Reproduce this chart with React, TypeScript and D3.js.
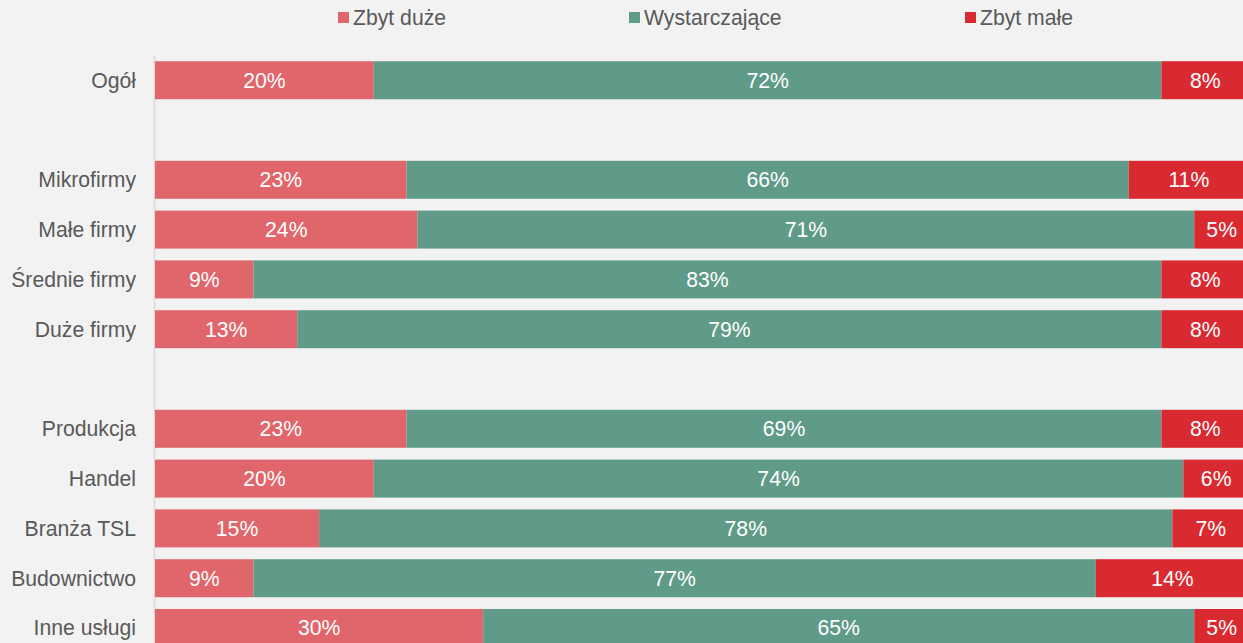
import React from "react";
import * as d3 from "d3";

const categories = [
  "Ogół", "", "Mikrofirmy", "Małe firmy", "Średnie firmy", "Duże firmy", " ",
  "Produkcja", "Handel", "Branża TSL", "Budownictwo", "Inne usługi",
];
const zbytDuze = [20, null, 23, 24, 9, 13, null, 23, 20, 15, 9, 30];
const wystarczajace = [72, null, 66, 71, 83, 79, null, 69, 74, 78, 77, 65];
const zbytMale = [8, null, 11, 5, 8, 8, null, 8, 6, 7, 14, 5];

const seriesNames = ["Zbyt duże", "Wystarczające", "Zbyt małe"];
const colors = ["#e0666b", "#5f9b88", "#d92a32"];

const W = 1243;
const H = 643;
const FONT = "'Liberation Sans', Arial, sans-serif";
const FS = 21.2;

export default function App() {
  const x = d3.scaleLinear().domain([0, 100]).range([155, 1249]);
  const step = 49.8;
  const y = d3
    .scaleBand<string>()
    .domain(categories)
    .range([55.3, 55.3 + categories.length * step])
    .paddingInner(0.237)
    .paddingOuter(0.1185);

  const seriesData = [zbytDuze, wystarczajace, zbytMale];

  const rows = categories.map((c, i) => {
    let acc = 0;
    const segs: { x0: number; x1: number; v: number; s: number }[] = [];
    seriesData.forEach((arr, s) => {
      const v = arr[i];
      if (v == null) return;
      segs.push({ x0: acc, x1: acc + v, v, s });
      acc += v;
    });
    return { c, segs };
  });

  const legendX = [338, 629, 965];

  return (
    <div style={{ position: "absolute", left: 0, top: 0 }}>
      <svg width={W} height={H} style={{ display: "block", background: "#f2f2f2" }}>
        <rect x={0} y={0} width={W} height={H} fill="#f2f2f2" />
        {seriesNames.map((n, i) => (
          <g key={n}>
            <rect x={legendX[i]} y={12} width={11} height={11} fill={colors[i]} />
            <text
              x={legendX[i] + 15}
              y={18}
              dy="0.35em"
              fontFamily={FONT}
              fontSize={FS}
              fill="#595959"
            >
              {n}
            </text>
          </g>
        ))}
        <line x1={154.5} x2={154.5} y1={56} y2={H} stroke="#d9d9d9" strokeWidth={1.5} />
        {rows.map((r) => {
          const y0 = y(r.c)!;
          const bh = y.bandwidth();
          return (
            <g key={r.c + "row"}>
              {r.c.trim() && (
                <text
                  x={136}
                  y={y0 + bh / 2}
                  dy="0.35em"
                  textAnchor="end"
                  fontFamily={FONT}
                  fontSize={FS}
                  fill="#595959"
                >
                  {r.c}
                </text>
              )}
              {r.segs.map((s) => (
                <g key={s.s}>
                  <rect
                    x={x(s.x0)}
                    y={y0}
                    width={x(s.x1) - x(s.x0)}
                    height={bh}
                    fill={colors[s.s]}
                  />
                  <text
                    x={(x(s.x0) + x(s.x1)) / 2}
                    y={y0 + bh / 2}
                    dy="0.35em"
                    textAnchor="middle"
                    fontFamily={FONT}
                    fontSize={FS}
                    fill="#ffffff"
                  >
                    {s.v}%
                  </text>
                </g>
              ))}
            </g>
          );
        })}
      </svg>
    </div>
  );
}
